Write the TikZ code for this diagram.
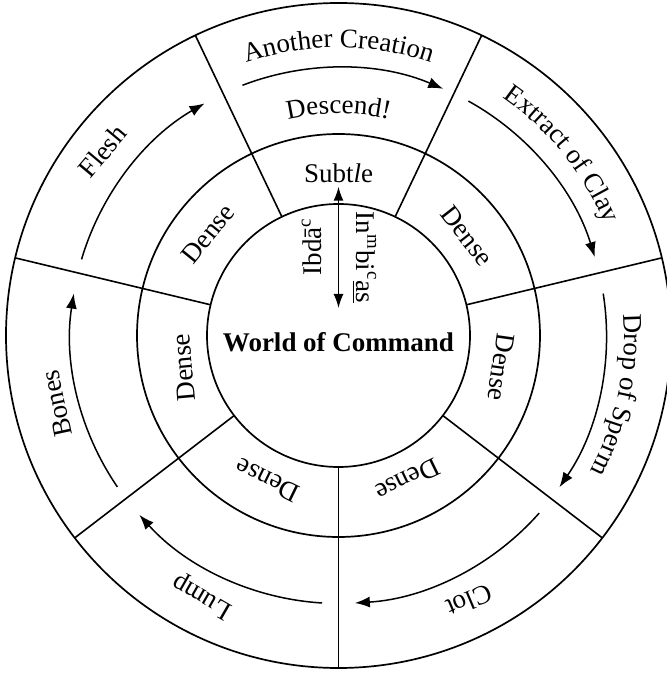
\documentclass[tikz,border=0pt]{standalone}
\usepackage{fontspec}
\setmainfont{Liberation Serif}
\usetikzlibrary{arrows.meta,decorations.text}
\newcommand\lblfont{\fontsize{13.5}{16}\selectfont}
\begin{document}
\begin{tikzpicture}[x=0.5pt,y=0.5pt,
  ring/.style={line width=0.85pt},
  spoke/.style={line width=0.8pt},
  flow/.style={line width=0.75pt,-{Latex[length=7.5pt,width=5.5pt]}},
  both/.style={line width=0.75pt,{Latex[length=7pt,width=5pt]}-{Latex[length=7pt,width=5pt]}},
  lbl/.style={font=\lblfont, inner sep=0pt},
  curved/.style={decorate, decoration={text along path, text align=center, text={|\lblfont|#1}}}
]
\useasboundingbox (-338.5,-338.5) rectangle (327.5,335.5);
\def\rin{131.5}\def\rmid{201.5}\def\rout{332.5}\def\rflow{268}

% three concentric rings
\draw[ring] (0,0) circle[radius=\rin];
\draw[ring] (0,0) circle[radius=\rmid];
\draw[ring] (0,0) circle[radius=\rout];

% seven radial dividers
\foreach \a in {13.5,64.5,115.5,166.5,217.5,270,322.5}
  \draw[spoke] (\a:\rin) -- (\a:\rout);

% clockwise flow through the stages
\draw[flow] (111:\rflow) arc[start angle=111, end angle=67, radius=\rflow];
\draw[flow] (61:\rflow) arc[start angle=61, end angle=17, radius=\rflow];
\draw[flow] (9:\rflow) arc[start angle=9, end angle=-34.5, radius=\rflow];
\draw[flow] (-41.5:\rflow) arc[start angle=-41.5, end angle=-86.5, radius=\rflow];
\draw[flow] (-93.5:\rflow) arc[start angle=-93.5, end angle=-138, radius=\rflow];
\draw[flow] (-145.6:\rflow) arc[start angle=-145.6, end angle=-189, radius=\rflow];
\draw[flow] (163.5:\rflow) arc[start angle=163.5, end angle=120, radius=\rflow];

% curved stage names
\path[curved={Another Creation}] (130:288) arc[start angle=130, end angle=50, radius=288];
\path[curved={Descend!}] (120:222) arc[start angle=120, end angle=60, radius=222];
\path[curved={Extract of Clay}] (80:289) arc[start angle=80, end angle=-2, radius=289];
\path[curved={Drop of Sperm}] (30:286) arc[start angle=30, end angle=-54, radius=286];

% short stage names
\node[lbl, rotate=203] (clot) at (296.25:296) {Clot};
\node[lbl, rotate=150] (lump) at (242.4:294) {Lump};
\node[lbl, rotate=102] (bones) at (193.6:290) {Bones};
\node[lbl, rotate=50] (flesh) at (142:299.5) {Flesh};

% middle ring
\node[lbl, anchor=base] (subtle) at (0,152.5) {Subt\textit{l}e};
\node[lbl, rotate=51] (d1) at (142:165.6) {Dense};
\node[lbl, rotate=-52] (d2) at (37.8:162.6) {Dense};
\node[lbl, rotate=95] (d3) at (191.7:158) {Dense};
\node[lbl, rotate=-98] (d4) at (-11.1:165.7) {Dense};
\node[lbl, rotate=206] (d5) at (295.6:160) {Dense};
\node[lbl, rotate=154] (d6) at (243.9:161) {Dense};

% centre
\node[lbl, font=\lblfont\bfseries] (world) at (0,-6.5) {World of Command};
\node[lbl, rotate=90] (ibda) at (-27,89) {Ibd\=a\textsuperscript{c}};
\node[lbl, rotate=-90] (inbias) at (26,78) {In\textsuperscript{m}bi\textsuperscript{c}\underline{as}};
\coordinate (cmdtop) at (0,27.5);
\draw[both] ([yshift=-1.5pt]subtle.south) -- (cmdtop);
\end{tikzpicture}
\end{document}
